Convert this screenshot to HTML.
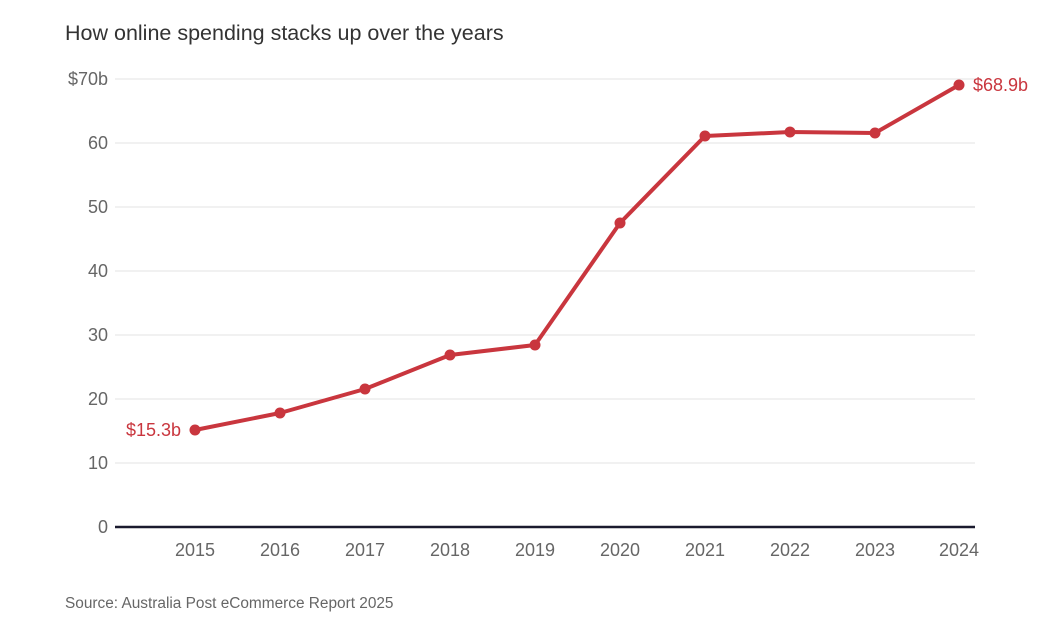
<!DOCTYPE html>
<html><head><style>
body{margin:0;background:#fff;}
svg text{font-family:"Liberation Sans",sans-serif;}
</style></head><body>
<svg width="1051" height="617" xmlns="http://www.w3.org/2000/svg">
<text x="65" y="40" font-size="21.5" fill="#333">How online spending stacks up over the years</text>
<g stroke="#e3e3e3" stroke-width="1">
<line x1="115" x2="975" y1="79" y2="79"/><line x1="115" x2="975" y1="143" y2="143"/>
<line x1="115" x2="975" y1="207" y2="207"/><line x1="115" x2="975" y1="271" y2="271"/>
<line x1="115" x2="975" y1="335" y2="335"/><line x1="115" x2="975" y1="399" y2="399"/>
<line x1="115" x2="975" y1="463" y2="463"/>
</g>
<line x1="115" x2="975" y1="527" y2="527" stroke="#1a1a2e" stroke-width="2.5"/>
<g font-size="18" fill="#666" text-anchor="end">
<text x="108" y="85">$70b</text><text x="108" y="149">60</text><text x="108" y="213">50</text>
<text x="108" y="277">40</text><text x="108" y="341">30</text><text x="108" y="405">20</text>
<text x="108" y="469">10</text><text x="108" y="533">0</text>
</g>
<g font-size="18" fill="#666" text-anchor="middle">
<text x="195" y="556">2015</text><text x="280" y="556">2016</text><text x="365" y="556">2017</text>
<text x="450" y="556">2018</text><text x="535" y="556">2019</text><text x="620" y="556">2020</text>
<text x="705" y="556">2021</text><text x="790" y="556">2022</text><text x="875" y="556">2023</text>
<text x="959" y="556">2024</text>
</g>
<polyline fill="none" stroke="#c9363e" stroke-width="4" stroke-linejoin="round"
points="195,430 280,413 365,389 450,355 535,345 620,223 705,136 790,132 875,133 959,85"/>
<g fill="#c9363e">
<circle cx="195" cy="430" r="5.5"/><circle cx="280" cy="413" r="5.5"/><circle cx="365" cy="389" r="5.5"/>
<circle cx="450" cy="355" r="5.5"/><circle cx="535" cy="345" r="5.5"/><circle cx="620" cy="223" r="5.5"/>
<circle cx="705" cy="136" r="5.5"/><circle cx="790" cy="132" r="5.5"/><circle cx="875" cy="133" r="5.5"/>
<circle cx="959" cy="85" r="5.5"/>
</g>
<text x="181" y="436" font-size="18" fill="#c9363e" text-anchor="end">$15.3b</text>
<text x="973" y="91" font-size="18" fill="#c9363e">$68.9b</text>
<text x="65" y="608" font-size="15.4" fill="#666">Source: Australia Post eCommerce Report 2025</text>
</svg>
</body></html>
